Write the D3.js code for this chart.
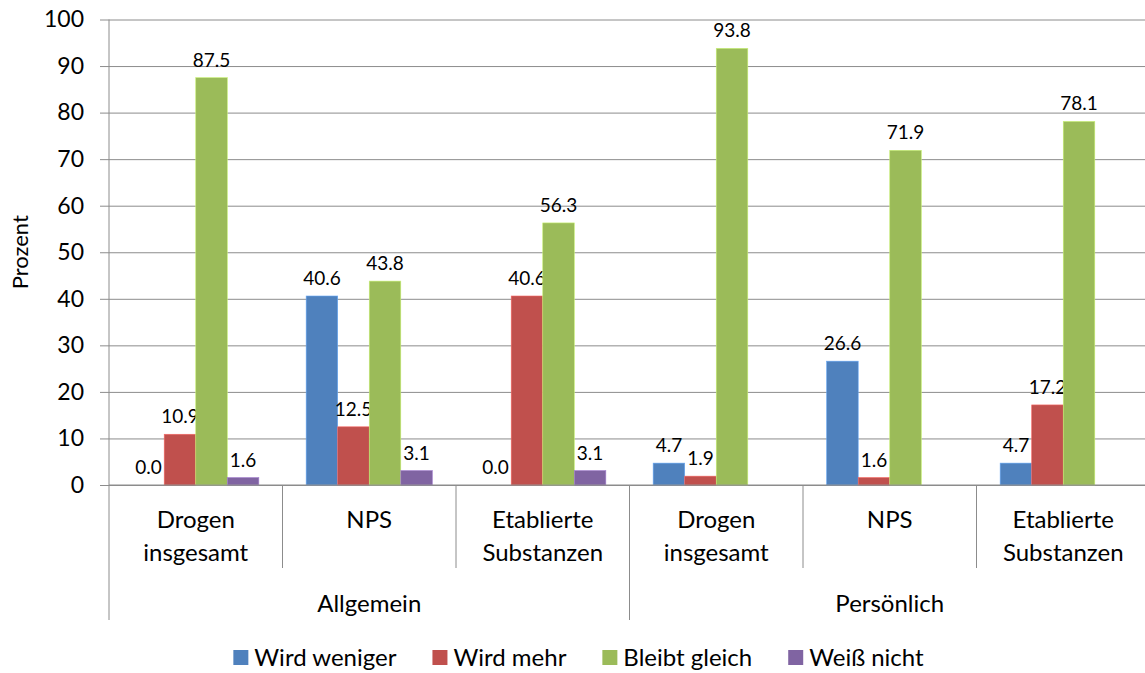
<!DOCTYPE html>
<html>
<head>
<meta charset="utf-8">
<script src="https://cdn.jsdelivr.net/npm/d3@7"></script>
<style>
  html, body { margin: 0; padding: 0; background: #fff; }
  svg { display: block; }
  text { font-family: Lato, "Open Sans", sans-serif; fill: #000; }
</style>
</head>
<body>
<svg id="chart" width="1145" height="673"></svg>
<script>
// ---- data ----
const groups = ["Allgemein", "Persönlich"];
const subcategories = [["Drogen", "insgesamt"], ["NPS"], ["Etablierte", "Substanzen"]];
const seriesNames = ["Wird weniger", "Wird mehr", "Bleibt gleich", "Weiß nicht"];
const wirdWeniger  = [0.0, 40.6, 0.0, 4.7, 26.6, 4.7];
const wirdMehr     = [10.9, 12.5, 40.6, 1.9, 1.6, 17.2];
const bleibtGleich = [87.5, 43.8, 56.3, 93.8, 71.9, 78.1];
const weissNicht   = [1.6, 3.1, 3.1, null, null, null];
const yTicks = [0, 10, 20, 30, 40, 50, 60, 70, 80, 90, 100];
const yTitle = "Prozent";
const colors = ["#4F81BD", "#C0504D", "#9BBB59", "#8064A2"];

const seriesValues = [wirdWeniger, wirdMehr, bleibtGleich, weissNicht];

// categories: group x subcategory
const categories = [];
groups.forEach((g, gi) => subcategories.forEach((s, si) => categories.push({key: gi + "-" + si, group: g, gi, lines: s})));

const svg = d3.select("#chart");
const plotLeft = 109, plotRight = 1150, plotTop = 19.5, plotBottom = 485;
const gridColor = "#8c8c8c";
const labelSize = 24;

const y = d3.scaleLinear().domain([0, 100]).range([plotBottom, plotTop]);
const x0 = d3.scaleBand().domain(categories.map(c => c.key)).range([plotLeft, plotRight]).paddingInner(0).paddingOuter(0);
const x1 = d3.scaleBand().domain(seriesNames).range([0, x0.bandwidth()]).paddingInner(0).paddingOuter(0.75);

// gridlines
svg.append("g")
  .attr("transform", `translate(${plotLeft},0)`)
  .call(d3.axisLeft(y).tickValues(yTicks).tickSize(-(plotRight - plotLeft)).tickFormat(""))
  .call(g => g.select(".domain").remove())
  .call(g => g.selectAll("line").attr("stroke", gridColor).attr("stroke-width", 1));

// y axis
const yAxis = svg.append("g")
  .attr("transform", `translate(${plotLeft},0)`)
  .call(d3.axisLeft(y).tickValues(yTicks).tickSize(9).tickPadding(16).tickFormat(d3.format("d")));
yAxis.select(".domain").attr("stroke", gridColor).attr("d", `M0,${plotTop}V${plotBottom}`);
yAxis.selectAll("line").attr("stroke", gridColor);
yAxis.selectAll("text").attr("font-size", 23).attr("font-family", "Lato").attr("fill", "#000");

// y title
svg.append("text")
  .attr("transform", `translate(28,${(plotTop + plotBottom) / 2}) rotate(-90)`)
  .attr("text-anchor", "middle")
  .attr("font-size", 22)
  .text(yTitle);

// bars
const catG = svg.append("g").selectAll("g")
  .data(categories)
  .join("g")
  .attr("transform", d => `translate(${x0(d.key)},0)`);

seriesNames.forEach((s, si) => {
  const vals = seriesValues[si];
  const sel = catG.filter((d, i) => vals[i] !== null);
  sel.append("rect")
    .attr("x", x1(s))
    .attr("width", x1.bandwidth())
    .attr("y", d => y(vals[categories.indexOf(d)]))
    .attr("height", d => y(0) - y(vals[categories.indexOf(d)]))
    .attr("fill", colors[si])
    .attr("stroke", d3.color(colors[si]).brighter(0.7))
    .attr("stroke-width", 0.6);
  sel.append("text")
    .attr("x", x1(s) + x1.bandwidth() / 2)
    .attr("y", d => y(vals[categories.indexOf(d)]) - 11)
    .attr("text-anchor", "middle")
    .attr("font-size", 19)
    .text(d => d3.format(".1f")(vals[categories.indexOf(d)]));
});

// x axis line
svg.append("line")
  .attr("x1", plotLeft).attr("x2", plotRight).attr("y1", plotBottom).attr("y2", plotBottom)
  .attr("stroke", gridColor).attr("stroke-width", 1);

// category separators
const boundaries = categories.map(c => x0(c.key)).concat([plotRight]);
boundaries.forEach((bx, i) => {
  const isGroupEdge = (i % subcategories.length) === 0;
  svg.append("line")
    .attr("x1", bx).attr("x2", bx)
    .attr("y1", plotBottom).attr("y2", isGroupEdge ? 620 : 568)
    .attr("stroke", gridColor).attr("stroke-width", 1);
});

// category labels
categories.forEach(c => {
  const cx = x0(c.key) + x0.bandwidth() / 2;
  const t = svg.append("text").attr("text-anchor", "middle").attr("font-size", labelSize);
  c.lines.forEach((ln, li) => {
    t.append("tspan").attr("x", cx).attr("y", 528 + li * 33).text(ln);
  });
});

// group labels
groups.forEach((g, gi) => {
  const members = categories.filter(c => c.gi === gi);
  const gx0 = x0(members[0].key);
  const gx1 = x0(members[members.length - 1].key) + x0.bandwidth();
  svg.append("text")
    .attr("x", (gx0 + gx1) / 2)
    .attr("y", 612)
    .attr("text-anchor", "middle")
    .attr("font-size", labelSize)
    .text(g);
});

// legend
const legend = svg.append("g");
const sq = 15, sqGap = 6, itemGap = 36;
let lx = 0;
seriesNames.forEach((s, si) => {
  const item = legend.append("g").attr("transform", `translate(${lx},0)`);
  item.append("rect").attr("x", 0).attr("y", 650).attr("width", sq).attr("height", sq).attr("fill", colors[si]);
  const t = item.append("text").attr("x", sq + sqGap).attr("y", 665.5).attr("font-size", labelSize).text(s);
  lx += sq + sqGap + t.node().getComputedTextLength() + itemGap;
});
const legendWidth = lx - itemGap;
legend.attr("transform", `translate(${578.5 - legendWidth / 2},0)`);
</script>
</body>
</html>
